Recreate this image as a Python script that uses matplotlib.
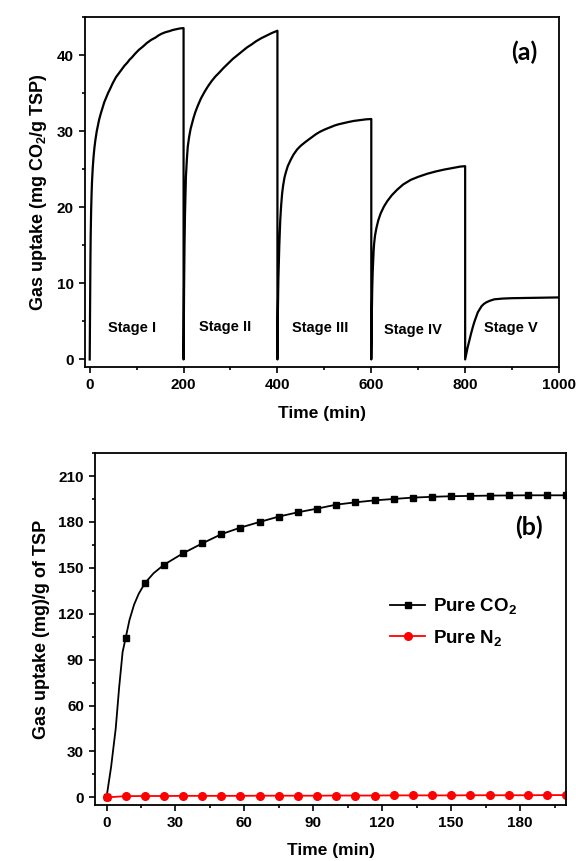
import numpy as np
import matplotlib
matplotlib.use("Agg")
import matplotlib.pyplot as plt
from matplotlib.ticker import MultipleLocator

plt.rcParams['font.family'] = ['Liberation Sans', 'DejaVu Sans']
plt.rcParams['font.weight'] = 'bold'
plt.rcParams['axes.labelweight'] = 'bold'
plt.rcParams['mathtext.fontset'] = 'custom'
plt.rcParams['mathtext.rm'] = 'Liberation Sans:bold'
plt.rcParams['mathtext.default'] = 'rm'

# ---- panel (a): cyclic uptake, five stages
stage1_t = [0, 0.5, 1, 1.5, 2, 3, 4, 5, 6.5, 8, 10, 12, 15, 20, 24, 27, 31, 35, 39, 43, 49, 56, 62, 67,
            74, 80, 85, 90, 97, 105, 113, 122, 131, 140, 147, 153, 161, 170, 177, 184, 192, 200]
stage1_v = [0, 5, 9, 13, 16, 19.5, 21.8, 23.5, 25.2, 26.5, 27.8, 28.8, 30, 31.5, 32.4, 33, 33.8, 34.4, 35,
            35.5, 36.3, 37.1, 37.6, 38, 38.6, 39, 39.4, 39.7, 40.2, 40.7, 41.1, 41.6, 42, 42.3, 42.6, 42.8,
            43, 43.15, 43.3, 43.4, 43.5, 43.55]
stage2_t = [200, 200.5, 201, 201.5, 202, 203, 204, 205, 207, 209, 212, 215, 218, 221, 225, 230, 237, 245,
            252, 260, 268, 276, 285, 295, 305, 315, 325, 335, 345, 354, 365, 375, 388, 400]
stage2_v = [0, 5, 9, 12, 15, 19, 21.8, 24, 26.3, 28, 29.3, 30.3, 31, 31.7, 32.5, 33.3, 34.3, 35.2, 35.9,
            36.6, 37.2, 37.7, 38.3, 38.9, 39.5, 40, 40.5, 41, 41.4, 41.8, 42.2, 42.5, 42.9, 43.2]
stage3_t = [400, 400.5, 401, 401.5, 402, 403, 404, 405, 406, 408, 410, 412, 415, 418, 422, 428, 434, 442,
            450, 460, 473, 482, 490, 500, 512, 522, 530, 540, 551, 563, 575, 588, 600]
stage3_v = [0, 4, 6.5, 8.5, 10.5, 13, 15, 16.8, 18.3, 20.3, 21.8, 22.8, 23.9, 24.6, 25.4, 26.2, 26.9, 27.6,
            28.1, 28.6, 29.2, 29.6, 29.9, 30.2, 30.5, 30.75, 30.9, 31.05, 31.2, 31.35, 31.45, 31.55, 31.6]
stage4_t = [600, 600.5, 601, 601.5, 602, 603, 604, 605, 606, 608, 611, 615, 620, 627, 634, 644, 655, 668,
            684, 700, 719, 737, 755, 768, 780, 790, 800]
stage4_v = [0, 3, 5.5, 7.5, 9.3, 11.5, 13, 14.3, 15.2, 16.3, 17.3, 18.3, 19.2, 20.1, 20.8, 21.6, 22.3, 23,
            23.6, 24, 24.4, 24.7, 24.95, 25.1, 25.25, 25.35, 25.4]
stage5_t = [800, 803, 805, 809, 813, 817, 820, 824, 827, 831, 835, 840, 845, 852, 862, 880, 900, 950, 1000]
stage5_v = [0, 0.9, 1.5, 2.5, 3.5, 4.4, 5, 5.7, 6.2, 6.6, 7, 7.3, 7.5, 7.7, 7.9, 8.0, 8.05, 8.1, 8.15]
stage_names = ['Stage I', 'Stage II', 'Stage III', 'Stage IV', 'Stage V']
stage_label_x = [90, 288, 492, 688, 898]
stage_label_y = [4.1, 4.3, 4.1, 3.9, 4.1]

# ---- panel (b): pure gas uptake
time_b = [0, 8.3, 16.7, 25, 33.3, 41.7, 50, 58.3, 66.7, 75, 83.3, 91.7, 100,
          108.3, 116.7, 125, 133.3, 141.7, 150, 158.3, 166.7, 175, 183.3, 191.7, 200]
co2 = [0, 104, 140, 152, 159.5, 166, 172, 176.3, 180, 183.5, 186.3, 188.7, 191.3,
       192.8, 194.1, 195, 195.9, 196.4, 196.8, 197, 197.2, 197.3, 197.4, 197.4, 197.4]
n2 = [0, 0.8, 0.9, 0.9, 1.0, 1.0, 1.0, 1.0, 1.1, 1.1, 1.1, 1.1, 1.2,
      1.2, 1.2, 1.3, 1.3, 1.3, 1.3, 1.4, 1.4, 1.4, 1.4, 1.5, 1.5]
# extra points of the smooth CO2 line in the first minutes
co2_line_t = [0, 2, 4, 5.5, 7, 8.3, 10, 12, 14, 16.7, 20.5]
co2_line_v = [0, 20, 45, 72, 95, 104, 116, 126, 133, 140, 146.5]

fig = plt.figure(figsize=(5.76, 8.61), dpi=100)

def style(ax):
    for s in ax.spines.values():
        s.set_linewidth(1.3)
    ax.tick_params(which='both', direction='out', width=1.2, labelsize=11, top=False, right=False)
    ax.tick_params(which='major', length=4.5)
    ax.tick_params(which='minor', length=2.5)

ax1 = fig.add_axes([0.1476, 0.5737, 0.8229, 0.4065])
t_all = stage1_t + stage2_t + stage3_t + stage4_t + stage5_t
v_all = stage1_v + stage2_v + stage3_v + stage4_v + stage5_v
ax1.plot(t_all, v_all, color='black', lw=1.6)
ax1.set_xlim(-10, 1000)
ax1.set_ylim(-1, 45)
ax1.xaxis.set_major_locator(MultipleLocator(200))
ax1.xaxis.set_minor_locator(MultipleLocator(100))
ax1.yaxis.set_major_locator(MultipleLocator(10))
ax1.yaxis.set_minor_locator(MultipleLocator(5))
style(ax1)
ax1.set_xlabel('Time (min)', fontsize=12.5, labelpad=10)
ax1.set_ylabel('Gas uptake (mg CO$_2$/g TSP)', fontsize=13, labelpad=6)
for name, x, y in zip(stage_names, stage_label_x, stage_label_y):
    ax1.text(x, y, name, ha='center', va='center', fontsize=10.5)
ax1.text(0.955, 0.9, '(a)', transform=ax1.transAxes, ha='right', va='center',
         fontsize=18, family='Lato', weight='bold')

ax2 = fig.add_axes([0.165, 0.065, 0.8177, 0.4088])
ax2.plot(co2_line_t + time_b[3:], co2_line_v + co2[3:], color='black', lw=1.3)
ax2.plot(time_b, co2, ls='none', marker='s', ms=5, color='black')
ax2.plot(time_b, n2, color='red', lw=1.3, marker='o', ms=5.5)
h_co2, = ax2.plot([], [], color='black', lw=1.3, marker='s', ms=5, label='Pure CO$_2$')
h_n2, = ax2.plot([], [], color='red', lw=1.3, marker='o', ms=5.5, label='Pure N$_2$')
ax2.set_xlim(-5, 200)
ax2.set_ylim(-5, 225)
ax2.xaxis.set_major_locator(MultipleLocator(30))
ax2.xaxis.set_minor_locator(MultipleLocator(15))
ax2.yaxis.set_major_locator(MultipleLocator(30))
ax2.yaxis.set_minor_locator(MultipleLocator(15))
style(ax2)
ax2.set_xlabel('Time (min)', fontsize=12.5, labelpad=9)
ax2.set_ylabel('Gas uptake (mg)/g of TSP', fontsize=13, labelpad=6)
ax2.text(0.95, 0.79, '(b)', transform=ax2.transAxes, ha='right', va='center',
         fontsize=18, family='Lato', weight='bold')
ax2.legend([h_co2, h_n2], ['Pure CO$_2$', 'Pure N$_2$'], loc='center left',
           bbox_to_anchor=(0.59, 0.52), frameon=False, numpoints=1,
           handlelength=1.9, handletextpad=0.4, fontsize=13.5, labelspacing=0.6)

fig.savefig('out.png', dpi=100)
